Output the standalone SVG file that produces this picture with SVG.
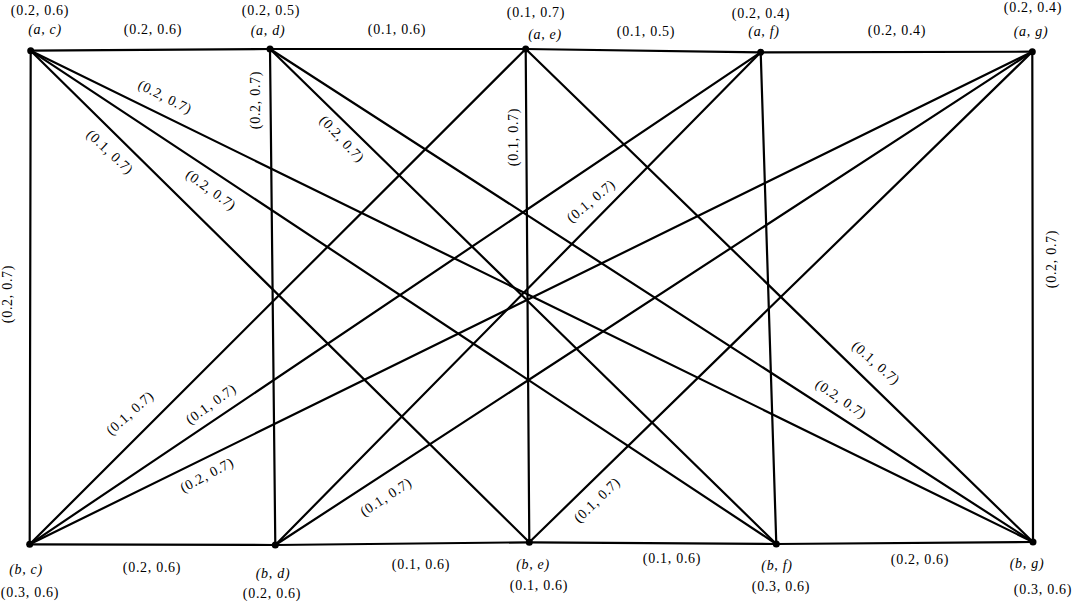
<svg xmlns="http://www.w3.org/2000/svg" width="1074" height="602" viewBox="0 0 1074 602">
<style>
.e{stroke:#000;stroke-width:2.2;fill:none;stroke-linecap:round}
.d{fill:#000}
text{font-family:"Liberation Serif","DejaVu Serif",serif;font-size:14px;letter-spacing:0.7px;fill:#000;text-anchor:middle;dominant-baseline:central}
.v{font-style:italic}
</style>
<rect width="1074" height="602" fill="#fff"/>
<g id="connectors">
<line class="e" x1="30.7" y1="50.7" x2="270" y2="49"/>
<line class="e" x1="270" y1="49" x2="525.7" y2="49"/>
<line class="e" x1="525.7" y1="49" x2="760.7" y2="52.3"/>
<line class="e" x1="760.7" y1="52.3" x2="1032.3" y2="51.7"/>
<line class="e" x1="29.7" y1="544.3" x2="275.3" y2="545"/>
<line class="e" x1="275.3" y1="545" x2="529.3" y2="542.3"/>
<line class="e" x1="529.3" y1="542.3" x2="776.3" y2="544"/>
<line class="e" x1="776.3" y1="544" x2="1033" y2="542"/>
<line class="e" x1="30.7" y1="50.7" x2="29.7" y2="544.3"/>
<line class="e" x1="270" y1="49" x2="275.3" y2="545"/>
<line class="e" x1="525.7" y1="49" x2="529.3" y2="542.3"/>
<line class="e" x1="760.7" y1="52.3" x2="776.3" y2="544"/>
<line class="e" x1="1032.3" y1="51.7" x2="1033" y2="542"/>
<line class="e" x1="30.7" y1="50.7" x2="529.3" y2="542.3"/>
<line class="e" x1="30.7" y1="50.7" x2="776.3" y2="544"/>
<line class="e" x1="30.7" y1="50.7" x2="1033" y2="542"/>
<line class="e" x1="270" y1="49" x2="776.3" y2="544"/>
<line class="e" x1="270" y1="49" x2="1033" y2="542"/>
<line class="e" x1="525.7" y1="49" x2="1033" y2="542"/>
<line class="e" x1="525.7" y1="49" x2="29.7" y2="544.3"/>
<line class="e" x1="760.7" y1="52.3" x2="29.7" y2="544.3"/>
<line class="e" x1="760.7" y1="52.3" x2="275.3" y2="545"/>
<line class="e" x1="1032.3" y1="51.7" x2="29.7" y2="544.3"/>
<line class="e" x1="1032.3" y1="51.7" x2="275.3" y2="545"/>
<line class="e" x1="1032.3" y1="51.7" x2="529.3" y2="542.3"/>
</g>
<g id="edge-labels">
<text x="153" y="29">(0.2, 0.6)</text>
<text x="397" y="29">(0.1, 0.6)</text>
<text x="646" y="31">(0.1, 0.5)</text>
<text x="897" y="30">(0.2, 0.4)</text>
<text x="152" y="567">(0.2, 0.6)</text>
<text x="421" y="564">(0.1, 0.6)</text>
<text x="672" y="558">(0.1, 0.6)</text>
<text x="920" y="559">(0.2, 0.6)</text>
<text transform="translate(7,294) rotate(-90)">(0.2, 0.7)</text>
<text transform="translate(255,100) rotate(-90)">(0.2, 0.7)</text>
<text transform="translate(513,137) rotate(-90)">(0.1, 0.7)</text>
<text transform="translate(1051,259) rotate(-90)">(0.2, 0.7)</text>
<text transform="translate(165,97) rotate(27)">(0.2, 0.7)</text>
<text transform="translate(110,152) rotate(43)">(0.1, 0.7)</text>
<text transform="translate(211,190) rotate(36)">(0.2, 0.7)</text>
<text transform="translate(342,139) rotate(47)">(0.2, 0.7)</text>
<text transform="translate(591,201) rotate(-40)">(0.1, 0.7)</text>
<text transform="translate(876,363) rotate(41)">(0.1, 0.7)</text>
<text transform="translate(841,399) rotate(34)">(0.2, 0.7)</text>
<text transform="translate(130,413) rotate(-42)">(0.1, 0.7)</text>
<text transform="translate(211,404) rotate(-36)">(0.1, 0.7)</text>
<text transform="translate(207,475) rotate(-28)">(0.2, 0.7)</text>
<text transform="translate(386,497) rotate(-33)">(0.1, 0.7)</text>
<text transform="translate(597,500) rotate(-44)">(0.1, 0.7)</text>
</g>
<g id="n-ac"><circle class="d" cx="30.7" cy="50.7" r="3.5"/><text x="40" y="10">(0.2, 0.6)</text><text class="v" x="45" y="29">(a, c)</text></g>
<g id="n-ad"><circle class="d" cx="270" cy="49" r="3.5"/><text x="271" y="10">(0.2, 0.5)</text><text class="v" x="268" y="30">(a, d)</text></g>
<g id="n-ae"><circle class="d" cx="525.7" cy="49" r="3.5"/><text x="536" y="12">(0.1, 0.7)</text><text class="v" x="545" y="34">(a, e)</text></g>
<g id="n-af"><circle class="d" cx="760.7" cy="52.3" r="3.5"/><text x="761" y="13">(0.2, 0.4)</text><text class="v" x="764" y="31">(a, f)</text></g>
<g id="n-ag"><circle class="d" cx="1032.3" cy="51.7" r="3.5"/><text x="1033" y="7">(0.2, 0.4)</text><text class="v" x="1031" y="31">(a, g)</text></g>
<g id="n-bc"><circle class="d" cx="29.7" cy="544.3" r="3.5"/><text class="v" x="26" y="569">(b, c)</text><text x="30" y="592">(0.3, 0.6)</text></g>
<g id="n-bd"><circle class="d" cx="275.3" cy="545" r="3.5"/><text class="v" x="273" y="573">(b, d)</text><text x="272" y="593">(0.2, 0.6)</text></g>
<g id="n-be"><circle class="d" cx="529.3" cy="542.3" r="3.5"/><text class="v" x="533" y="564">(b, e)</text><text x="539" y="585">(0.1, 0.6)</text></g>
<g id="n-bf"><circle class="d" cx="776.3" cy="544" r="3.5"/><text class="v" x="777" y="565">(b, f)</text><text x="781" y="586">(0.3, 0.6)</text></g>
<g id="n-bg"><circle class="d" cx="1033" cy="542" r="3.5"/><text class="v" x="1027" y="563">(b, g)</text><text x="1043" y="589">(0.3, 0.6)</text></g>
</svg>
